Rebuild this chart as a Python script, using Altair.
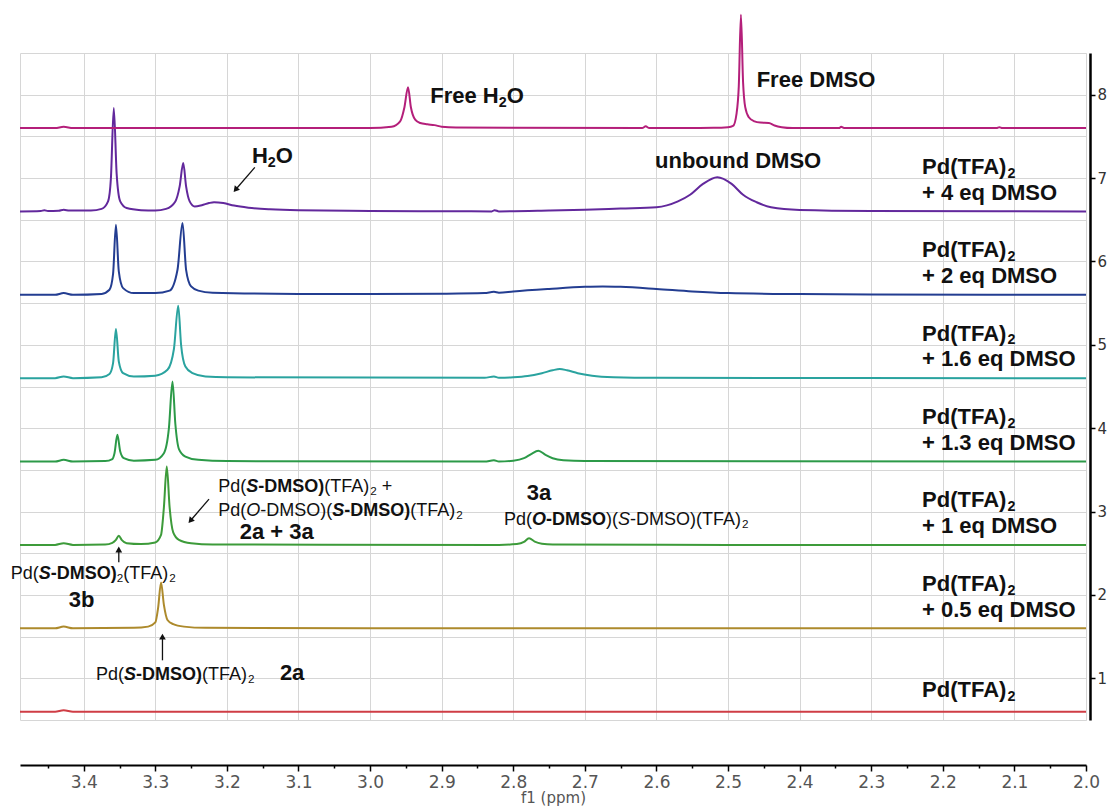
import altair as alt
import pandas as pd

# ------------------------------------------------------------------ data
SPECTRUM_NAMES = ["Pd(TFA)2", "+0.5 eq", "+1 eq", "+1.3 eq", "+1.6 eq", "+2 eq", "+4 eq", "Free DMSO"]
SPECTRUM_COLORS = ["#cf3d45", "#ad8a2c", "#3d9b3a", "#2c9a48", "#2aa39f", "#233d91", "#62289c", "#b41f7a"]
STACK_OFFSETS = [0.6, 1.6, 2.6, 3.6, 4.6, 5.6, 6.6, 7.6]
EQ_LABELS = ["", "0.5", "1", "1.3", "1.6", "2", "4", None]

# spectrum 1: Pd(TFA)2
S1_PPM = [3.489, 3.44, 3.428, 3.415, 3.0, 2.5, 2.0]
S1_INT = [0, 0, 0.018, 0, 0, 0, 0]
# spectrum 2: + 0.5 eq DMSO
S2_PPM = [3.489, 3.44, 3.428, 3.415, 3.33, 3.31, 3.30, 3.296, 3.292, 3.288, 3.283, 3.275, 3.26, 3.23, 3.0, 2.0]
S2_INT = [0, 0, 0.02, 0, 0.005, 0.02, 0.07, 0.25, 0.55, 0.28, 0.1, 0.05, 0.02, 0.005, 0, 0]
# spectrum 3: + 1 eq DMSO
S3_PPM = [3.489, 3.44, 3.428, 3.415, 3.37, 3.36, 3.355, 3.351, 3.347, 3.34, 3.32, 3.30, 3.292, 3.288,
          3.284, 3.280, 3.275, 3.267, 3.25, 3.22, 2.82, 2.795, 2.785, 2.778, 2.77, 2.76, 2.745, 2.5, 2.0]
S3_INT = [0, 0, 0.02, 0, 0.005, 0.025, 0.06, 0.11, 0.06, 0.02, 0.01, 0.03, 0.12, 0.45,
          0.94, 0.45, 0.15, 0.06, 0.02, 0.005, 0, 0.01, 0.035, 0.08, 0.04, 0.015, 0.005, 0, 0]
# spectrum 4: + 1.3 eq DMSO
S4_PPM = [3.489, 3.44, 3.428, 3.415, 3.37, 3.36, 3.357, 3.353, 3.349, 3.344, 3.33, 3.30, 3.288, 3.281,
          3.276, 3.272, 3.267, 3.258, 3.24, 3.2, 2.84, 2.827, 2.82, 2.80, 2.785, 2.775, 2.765, 2.755,
          2.745, 2.73, 2.70, 2.0]
S4_INT = [0, 0, 0.02, 0, 0.005, 0.03, 0.1, 0.32, 0.12, 0.04, 0.01, 0.02, 0.1, 0.4,
          0.96, 0.45, 0.15, 0.06, 0.02, 0.005, 0, 0.015, 0, 0.01, 0.04, 0.09, 0.13, 0.08,
          0.04, 0.015, 0.005, 0]
# spectrum 5: + 1.6 eq DMSO
S5_PPM = [3.489, 3.44, 3.428, 3.415, 3.375, 3.364, 3.359, 3.355, 3.351, 3.345, 3.33, 3.30, 3.283, 3.274,
          3.268, 3.264, 3.258, 3.248, 3.23, 3.2, 2.84, 2.827, 2.82, 2.80, 2.78, 2.76, 2.745, 2.735,
          2.725, 2.71, 2.69, 2.66, 2.6, 2.0]
S5_INT = [0, 0, 0.02, 0, 0.01, 0.05, 0.18, 0.59, 0.2, 0.06, 0.02, 0.03, 0.1, 0.35,
          0.87, 0.4, 0.14, 0.06, 0.02, 0.01, 0.005, 0.02, 0.005, 0.01, 0.025, 0.06, 0.095, 0.11,
          0.095, 0.06, 0.03, 0.012, 0.004, 0]
# spectrum 6: + 2 eq DMSO
S6_PPM = [3.489, 3.44, 3.428, 3.415, 3.375, 3.364, 3.359, 3.355, 3.351, 3.345, 3.33, 3.30, 3.28, 3.269,
          3.262, 3.257, 3.25, 3.24, 3.22, 3.1, 3.0, 2.9, 2.84, 2.827, 2.82, 2.8, 2.75, 2.70, 2.675,
          2.65, 2.6, 2.55, 2.5, 2.4, 2.3, 2.0]
S6_INT = [0, 0, 0.02, 0, 0.01, 0.06, 0.25, 0.84, 0.28, 0.08, 0.02, 0.02, 0.05, 0.3,
          0.86, 0.3, 0.1, 0.05, 0.025, 0.01, 0.008, 0.012, 0.02, 0.035, 0.025, 0.04, 0.07, 0.095, 0.1,
          0.095, 0.07, 0.04, 0.02, 0.008, 0.003, 0]
# spectrum 7: + 4 eq DMSO
S7_PPM = [3.489, 3.46, 3.455, 3.45, 3.435, 3.428, 3.42, 3.39, 3.375, 3.366, 3.362, 3.358, 3.354, 3.349,
          3.34, 3.32, 3.30, 3.285, 3.272, 3.266, 3.261, 3.257, 3.252, 3.245, 3.235, 3.225, 3.218, 3.205,
          3.19, 3.17, 3.14, 3.10, 3.0, 2.9, 2.83, 2.826, 2.82, 2.75, 2.70, 2.65, 2.60, 2.57, 2.553,
          2.535, 2.515, 2.495, 2.479, 2.46, 2.44, 2.40, 2.3, 2.0]
S7_INT = [0, 0.005, 0.015, 0.005, 0.008, 0.02, 0.01, 0.01, 0.03, 0.12, 0.4, 1.24, 0.45, 0.12,
          0.04, 0.015, 0.01, 0.03, 0.12, 0.3, 0.58, 0.3, 0.12, 0.06, 0.075, 0.1, 0.11, 0.1,
          0.07, 0.045, 0.025, 0.013, 0.005, 0.002, 0, 0.015, 0, 0.01, 0.02, 0.035, 0.05, 0.12, 0.2,
          0.33, 0.41, 0.33, 0.2, 0.11, 0.05, 0.018, 0.006, 0]
# spectrum 8: free DMSO
S8_PPM = [3.489, 3.44, 3.428, 3.415, 3.0, 2.97, 2.958, 2.952, 2.947, 2.943, 2.937, 2.93, 2.92, 2.91,
          2.9, 2.88, 2.62, 2.615, 2.61, 2.52, 2.50, 2.493, 2.488, 2.485, 2.482, 2.479, 2.476, 2.471,
          2.463, 2.455, 2.443, 2.435, 2.425, 2.41, 2.345, 2.342, 2.338, 2.125, 2.121, 2.117, 2.0]
S8_INT = [0, 0, 0.015, 0, 0, 0.015, 0.08, 0.25, 0.49, 0.25, 0.1, 0.06, 0.045, 0.035,
          0.015, 0.005, 0, 0.02, 0, 0.003, 0.01, 0.025, 0.18, 0.5, 1.36, 0.55, 0.25, 0.13,
          0.08, 0.065, 0.06, 0.03, 0.01, 0, 0, 0.015, 0, 0, 0.01, 0, 0]

SPECTRA_PPM = [S1_PPM, S2_PPM, S3_PPM, S4_PPM, S5_PPM, S6_PPM, S7_PPM, S8_PPM]
SPECTRA_INT = [S1_INT, S2_INT, S3_INT, S4_INT, S5_INT, S6_INT, S7_INT, S8_INT]

X_TICKS = [3.4, 3.3, 3.2, 3.1, 3.0, 2.9, 2.8, 2.7, 2.6, 2.5, 2.4, 2.3, 2.2, 2.1, 2.0]
X_MINOR = [3.45, 3.35, 3.25, 3.15, 3.05, 2.95, 2.85, 2.75, 2.65, 2.55, 2.45, 2.35, 2.25, 2.15, 2.05]
Y_TICKS = [1, 2, 3, 4, 5, 6, 7, 8]
Y_GRID = [1.0, 1.5, 2.0, 2.5, 3.0, 3.5, 4.0, 4.5, 5.0, 5.5, 6.0, 6.5, 7.0, 7.5, 8.0]

# annotations: (ppm of left edge, baseline value, font size, [(text, style)])
# style codes: r regular, b bold, i italic, bi bold italic, s subscript, sb bold subscript
ANNOTATIONS = [
    (2.916, 7.897, 22, [("Free H", "b"), ("2", "sb"), ("O", "b")]),
    (2.460, 8.089, 22, [("Free DMSO", "b")]),
    (3.165, 7.177, 22, [("H", "b"), ("2", "sb"), ("O", "b")]),
    (2.602, 7.117, 22, [("unbound DMSO", "b")]),
    (3.212, 3.233, 18, [("Pd(", "r"), ("S", "bi"), ("-DMSO)", "b"), ("(TFA)", "r"), ("2", "s"), (" +", "r")]),
    (3.212, 2.945, 18, [("Pd(", "r"), ("O", "i"), ("-DMSO)(", "r"), ("S", "bi"), ("-DMSO)", "b"),
                        ("(TFA)", "r"), ("2", "s")]),
    (3.182, 2.670, 22, [("2a + 3a", "b")]),
    (2.781, 3.137, 22, [("3a", "b")]),
    (2.813, 2.837, 18, [("Pd(", "r"), ("O", "bi"), ("-DMSO", "b"), (")(", "r"), ("S", "i"),
                        ("-DMSO)(TFA)", "r"), ("2", "s")]),
    (3.502, 2.190, 18, [("Pd(", "r"), ("S", "bi"), ("-DMSO)", "b"), ("2", "s"), ("(TFA)", "r"), ("2", "s")]),
    (3.421, 1.854, 22, [("3b", "b")]),
    (3.383, 0.979, 18, [("Pd(", "r"), ("S", "bi"), ("-DMSO)", "b"), ("(TFA)", "r"), ("2", "s")]),
    (3.126, 0.979, 22, [("2a", "b")]),
]
RIGHT_LABEL_PPM = 2.229

# arrows: tail (ppm, value) -> head (ppm, value), head rotation
ARROW_TAIL_PPM = [3.161, 3.225, 3.351, 3.290]
ARROW_TAIL_VAL = [7.129, 3.149, 2.393, 1.216]
ARROW_HEAD_PPM = [3.188, 3.251, 3.351, 3.290]
ARROW_HEAD_VAL = [6.860, 2.890, 2.545, 1.500]
ARROW_ANGLE = [220, 220, 0, 0]

# ------------------------------------------------------------------ geometry
PLOT_W, PLOT_H = 1066, 667
X_DOMAIN = [2.0, 3.489]
Y_DOMAIN = [0.5, 8.5]
PX_PER_PPM = PLOT_W / (X_DOMAIN[1] - X_DOMAIN[0])
PX_PER_UNIT = PLOT_H / (Y_DOMAIN[1] - Y_DOMAIN[0])

REG_W = {' ': 278, '(': 333, ')': 333, '+': 584, '-': 333, '.': 278, 'A': 667, 'D': 722, 'F': 611,
         'M': 833, 'O': 778, 'P': 667, 'S': 667, 'T': 611, 'H': 722, 'a': 556, 'b': 556, 'd': 556,
         'e': 556, 'n': 556, 'o': 556, 'q': 556, 'r': 333, 'u': 556}
BOLD_W = {' ': 278, '(': 333, ')': 333, '+': 584, '-': 333, '.': 278, 'A': 722, 'D': 722, 'F': 611,
          'M': 833, 'O': 778, 'P': 667, 'S': 667, 'T': 611, 'H': 722, 'a': 556, 'b': 611, 'd': 611,
          'e': 556, 'n': 611, 'o': 611, 'q': 611, 'r': 389, 'u': 611}


def text_rows(x0, y0, fs, segs):
    rows = []
    px = 0.0
    for txt, code in segs:
        sub = code.startswith("s")
        bold = "b" in code
        ital = "i" in code
        size = fs * 0.65 if sub else fs
        table = BOLD_W if bold else REG_W
        lead = len(txt) - len(txt.lstrip(" "))
        x_px = px + lead * 278 * size / 1000.0
        rows.append(dict(x=x0 - x_px / PX_PER_PPM,
                         y=y0 - (0.17 * fs / PX_PER_UNIT if sub else 0.0),
                         t=txt.strip(" "), fs=size,
                         w="bold" if bold else "normal",
                         s="italic" if ital else "normal"))
        px += sum(table.get(c, 556) for c in txt) * size / 1000.0
    return rows


# spectra table
spec_rows = []
for i, (pp, ii) in enumerate(zip(SPECTRA_PPM, SPECTRA_INT)):
    for k, (p, v) in enumerate(zip(pp, ii)):
        spec_rows.append(dict(ppm=p, val=STACK_OFFSETS[i] + v, spec=SPECTRUM_NAMES[i], k=k))
spec_df = pd.DataFrame(spec_rows)

# text table
txt_rows = []
for x0, y0, fs, segs in ANNOTATIONS:
    txt_rows += text_rows(x0, y0, fs, segs)
for i, eq in enumerate(EQ_LABELS):
    if eq is None:
        continue
    b = STACK_OFFSETS[i]
    if eq == "":
        txt_rows += text_rows(RIGHT_LABEL_PPM, b + 0.17, 22, [("Pd(TFA)", "b"), ("2", "sb")])
    else:
        txt_rows += text_rows(RIGHT_LABEL_PPM, b + 0.45, 22, [("Pd(TFA)", "b"), ("2", "sb")])
        txt_rows += text_rows(RIGHT_LABEL_PPM, b + 0.14, 22, [("+ " + eq + " eq DMSO", "b")])
txt_df = pd.DataFrame(txt_rows)

arrow_df = pd.DataFrame(dict(x=ARROW_TAIL_PPM, y=ARROW_TAIL_VAL, x2=ARROW_HEAD_PPM,
                             y2=ARROW_HEAD_VAL, ang=ARROW_ANGLE))

# ------------------------------------------------------------------ chart
xs = alt.Scale(domain=X_DOMAIN, reverse=True, nice=False, zero=False)
ys = alt.Scale(domain=Y_DOMAIN, nice=False, zero=False)
TICK_FONT = "DejaVu Sans"

anchor_df = pd.DataFrame(dict(ppm=[2.5], val=[4.0]))

grid_layer = alt.Chart(anchor_df).mark_point(opacity=0).encode(
    x=alt.X("ppm:Q", scale=xs, axis=alt.Axis(values=X_TICKS, grid=True, gridColor="#d6d6d6",
                                              gridWidth=1, labels=False, ticks=False, domain=False,
                                              title=None, orient="bottom")),
    y=alt.Y("val:Q", scale=ys, axis=alt.Axis(values=Y_GRID, grid=True, gridColor="#d6d6d6",
                                              gridWidth=1, labels=False, ticks=False, domain=False,
                                              title=None, orient="left")),
)

minor_layer = alt.Chart(anchor_df).mark_point(opacity=0).encode(
    x=alt.X("ppm:Q", scale=xs, axis=alt.Axis(values=X_MINOR, grid=False, labels=False, domain=False,
                                              tickSize=3, tickWidth=1.5, tickColor="black",
                                              offset=45, title=None, orient="bottom")),
    y=alt.Y("val:Q", scale=ys, axis=None),
)

spectra_layer = alt.Chart(spec_df).mark_line(interpolate="monotone", strokeWidth=2, clip=False).encode(
    x=alt.X("ppm:Q", scale=xs, axis=alt.Axis(
        orient="bottom", offset=45, values=X_TICKS, format=".1f", grid=False, labelFlush=False,
        tickSize=6, tickWidth=1.5, tickColor="black", domainColor="black", domainWidth=2,
        labelFont=TICK_FONT, labelFontSize=17, labelColor="#555", labelPadding=3,
        title="f1 (ppm)", titleFont=TICK_FONT, titleFontSize=15, titleFontWeight="normal",
        titleColor="#555", titlePadding=0)),
    y=alt.Y("val:Q", scale=ys, axis=alt.Axis(
        orient="right", offset=4, values=Y_TICKS, format="d", grid=False,
        tickSize=5, tickWidth=1.5, tickColor="black", domainColor="black", domainWidth=2.5,
        labelFont=TICK_FONT, labelFontSize=15, labelColor="#333", labelPadding=2, title=None)),
    color=alt.Color("spec:N", scale=alt.Scale(domain=SPECTRUM_NAMES, range=SPECTRUM_COLORS), legend=None),
    order=alt.Order("k:Q"),
)

text_layers = []
for w in ["normal", "bold"]:
    for s in ["normal", "italic"]:
        sub = txt_df[(txt_df.w == w) & (txt_df.s == s)]
        if len(sub) == 0:
            continue
        text_layers.append(
            alt.Chart(sub).mark_text(align="left", baseline="alphabetic", font="Liberation Sans",
                                     fontWeight=w, fontStyle=s, color="#111", clip=False).encode(
                x=alt.X("x:Q", scale=xs, axis=None),
                y=alt.Y("y:Q", scale=ys, axis=None),
                text="t:N",
                size=alt.Size("fs:Q", scale=None, legend=None),
            )
        )

arrow_lines = alt.Chart(arrow_df).mark_rule(color="#111", strokeWidth=1.3).encode(
    x=alt.X("x:Q", scale=xs, axis=None), y=alt.Y("y:Q", scale=ys, axis=None),
    x2="x2:Q", y2="y2:Q")
arrow_heads = alt.Chart(arrow_df).mark_point(shape="triangle-up", filled=True, size=45,
                                             color="#111", opacity=1).encode(
    x=alt.X("x2:Q", scale=xs, axis=None), y=alt.Y("y2:Q", scale=ys, axis=None),
    angle=alt.Angle("ang:Q", scale=None))

chart = alt.layer(grid_layer, minor_layer, spectra_layer, *text_layers, arrow_lines, arrow_heads).resolve_axis(
    x="independent", y="independent"
).properties(
    width=PLOT_W, height=PLOT_H,
    autosize=alt.AutoSizeParams(type="none"),
    padding={"left": 20, "top": 53, "right": 24, "bottom": 89},
    background="white",
).configure_view(stroke="#d6d6d6", strokeWidth=1)

chart.save("out.html", embed_options={"renderer": "svg", "actions": False})
